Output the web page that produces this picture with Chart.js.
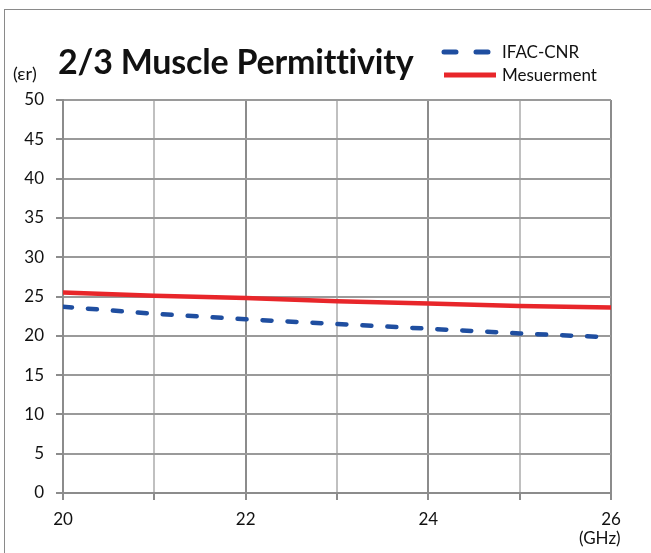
<!DOCTYPE html>
<html>
<head>
<meta charset="utf-8">
<script src="https://cdn.jsdelivr.net/npm/chart.js@4/dist/chart.umd.min.js"></script>
<style>
  body { margin: 0; background: #fff; }
  #wrap { position: relative; width: 651px; height: 553px; font-family: Lato, "Open Sans", sans-serif; color: #111; }
  #frame { position: absolute; left: 4px; top: 9px; width: 660px; height: 560px; border-left: 1px solid #8a8a8a; border-top: 1px solid #8a8a8a; }
  canvas { position: absolute; left: 0; top: 0; }
  .lbl { position: absolute; white-space: nowrap; }
  #title { left: 58px; top: 40px; font-size: 34px; font-weight: bold; letter-spacing: -0.2px; }
  #unitY { left: 13px; top: 62px; font-size: 18px; }
  #unitX { left: 579px; top: 527px; font-size: 17px; }
  .leg { position: absolute; font-size: 17px; }
</style>
</head>
<body>
<div id="wrap">
  <div id="frame"></div>
  <canvas id="chart" width="651" height="553"></canvas>
  <div class="lbl" id="unitY">(εr)</div>
  <div class="lbl" id="title">2/3 Muscle Permittivity</div>
  <svg style="position:absolute;left:440px;top:40px" width="64" height="46">
    <line x1="4" y1="12" x2="52" y2="12" stroke="#1f4ea0" stroke-width="5" stroke-linecap="round" stroke-dasharray="12 20"/>
    <line x1="4" y1="35" x2="56" y2="35" stroke="#e8262a" stroke-width="5"/>
  </svg>
  <div class="leg" style="left:502px;top:41px">IFAC-CNR</div>
  <div class="leg" style="left:502px;top:64px">Mesuerment</div>
  <div class="lbl" id="unitX">(GHz)</div>
</div>
<script>
// frequency (GHz)
const freqs = [20, 21, 22, 23, 24, 25, 26];
const ifacCnr = [23.7, 22.8, 22.1, 21.5, 20.9, 20.3, 19.8];
const measurement = [25.5, 25.1, 24.8, 24.4, 24.1, 23.8, 23.6];
const xTickLabels = [20, 22, 24, 26];

const ctx = document.getElementById("chart").getContext("2d");
new Chart(ctx, {
    type: "line",
    data: {
        datasets: [
            {
                label: "IFAC-CNR",
                data: freqs.map((f, i) => ({ x: f, y: ifacCnr[i] })),
                borderColor: "#1f4ea0",
                borderWidth: 4.5,
                borderDash: [9, 16],
                borderCapStyle: "round",
                pointRadius: 0,
                tension: 0
            },
            {
                label: "Mesuerment",
                data: freqs.map((f, i) => ({ x: f, y: measurement[i] })),
                borderColor: "#e8262a",
                borderWidth: 4.5,
                pointRadius: 0,
                tension: 0
            }
        ]
    },
    options: {
        responsive: false,
        animation: false,
        layout: { padding: { left: 0, top: 100, right: 40, bottom: 0 } },
        plugins: { legend: { display: false }, tooltip: { enabled: false } },
        scales: {
            x: {
                type: "linear",
                min: 20,
                max: 26,
                afterFit: (scale) => { scale.height = 60; },
                afterBuildTicks: (scale) => { scale.ticks = freqs.map(v => ({ value: v })); },
                ticks: {
                    padding: 9,
                    color: "#111",
                    font: { family: "Lato, 'Open Sans', sans-serif", size: 17 },
                    callback: (v) => xTickLabels.includes(v) ? String(v) : ""
                },
                grid: {
                    color: (c) => (c.tick && xTickLabels.includes(c.tick.value)) ? "#8c8c8c" : "#c0c0c0",
                    lineWidth: 2,
                    tickLength: 7,
                    tickColor: "#8c8c8c"
                },
                border: { color: "#8c8c8c", width: 2 }
            },
            y: {
                min: 0,
                max: 50,
                afterFit: (scale) => { scale.width = 63; },
                ticks: {
                    stepSize: 5,
                    padding: 12,
                    color: "#111",
                    font: { family: "Lato, 'Open Sans', sans-serif", size: 17 }
                },
                grid: {
                    color: "#9a9a9a",
                    lineWidth: 2,
                    tickLength: 7,
                    tickColor: "#8c8c8c"
                },
                border: { color: "#8c8c8c", width: 2 }
            }
        }
    }
});
</script>
</body>
</html>
